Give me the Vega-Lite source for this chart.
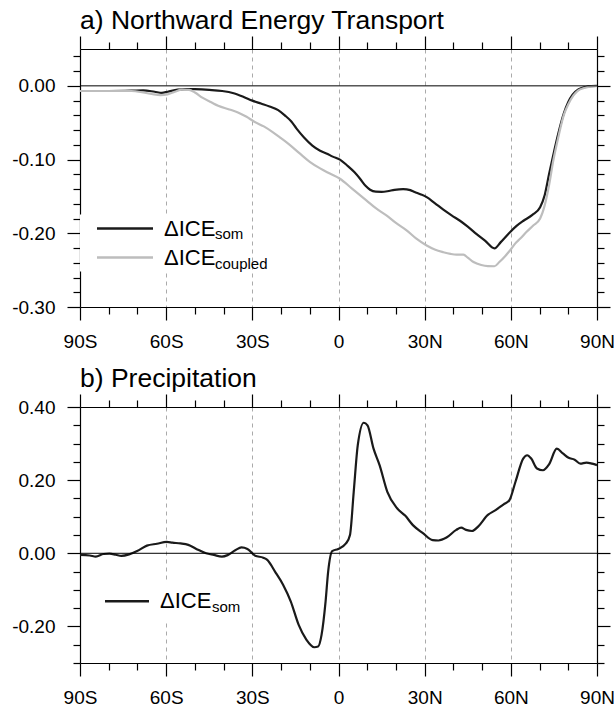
{
  "$schema": "https://vega.github.io/schema/vega-lite/v6.json",
  "padding": {"left": 11, "top": 7, "right": 0, "bottom": 0},
  "background": "white",
  "spacing": 14,
  "resolve": {"scale": {"color": "independent", "opacity": "independent"}, "legend": {"color": "independent", "opacity": "independent"}},
  "datasets": {
    "energy": [
      {"lat": -90, "value": -0.007, "series": "som"},
      {"lat": -80, "value": -0.007, "series": "som"},
      {"lat": -72, "value": -0.0065, "series": "som"},
      {"lat": -68, "value": -0.006, "series": "som"},
      {"lat": -64, "value": -0.008, "series": "som"},
      {"lat": -61.5, "value": -0.0095, "series": "som"},
      {"lat": -59.5, "value": -0.008, "series": "som"},
      {"lat": -56, "value": -0.005, "series": "som"},
      {"lat": -53, "value": -0.0043, "series": "som"},
      {"lat": -50, "value": -0.0045, "series": "som"},
      {"lat": -45, "value": -0.0055, "series": "som"},
      {"lat": -40.5, "value": -0.007, "series": "som"},
      {"lat": -36.5, "value": -0.01, "series": "som"},
      {"lat": -33, "value": -0.015, "series": "som"},
      {"lat": -30, "value": -0.02, "series": "som"},
      {"lat": -27, "value": -0.024, "series": "som"},
      {"lat": -24, "value": -0.028, "series": "som"},
      {"lat": -21, "value": -0.033, "series": "som"},
      {"lat": -18.7, "value": -0.04, "series": "som"},
      {"lat": -16.5, "value": -0.048, "series": "som"},
      {"lat": -14.6, "value": -0.058, "series": "som"},
      {"lat": -12, "value": -0.07, "series": "som"},
      {"lat": -9.1, "value": -0.081, "series": "som"},
      {"lat": -6.4, "value": -0.088, "series": "som"},
      {"lat": -4, "value": -0.092, "series": "som"},
      {"lat": -2, "value": -0.096, "series": "som"},
      {"lat": 0.5, "value": -0.1, "series": "som"},
      {"lat": 3, "value": -0.108, "series": "som"},
      {"lat": 5.5, "value": -0.117, "series": "som"},
      {"lat": 7.5, "value": -0.126, "series": "som"},
      {"lat": 9.5, "value": -0.136, "series": "som"},
      {"lat": 11, "value": -0.141, "series": "som"},
      {"lat": 13, "value": -0.1435, "series": "som"},
      {"lat": 15, "value": -0.1437, "series": "som"},
      {"lat": 17, "value": -0.143, "series": "som"},
      {"lat": 19.5, "value": -0.141, "series": "som"},
      {"lat": 22.5, "value": -0.14, "series": "som"},
      {"lat": 25, "value": -0.1415, "series": "som"},
      {"lat": 26.5, "value": -0.144, "series": "som"},
      {"lat": 28.5, "value": -0.147, "series": "som"},
      {"lat": 30.7, "value": -0.151, "series": "som"},
      {"lat": 33.5, "value": -0.159, "series": "som"},
      {"lat": 36.5, "value": -0.168, "series": "som"},
      {"lat": 39.5, "value": -0.176, "series": "som"},
      {"lat": 42.3, "value": -0.183, "series": "som"},
      {"lat": 45, "value": -0.191, "series": "som"},
      {"lat": 48.1, "value": -0.201, "series": "som"},
      {"lat": 51, "value": -0.21, "series": "som"},
      {"lat": 54.3, "value": -0.2205, "series": "som"},
      {"lat": 56.5, "value": -0.212, "series": "som"},
      {"lat": 59.7, "value": -0.1985, "series": "som"},
      {"lat": 62, "value": -0.19, "series": "som"},
      {"lat": 64.4, "value": -0.183, "series": "som"},
      {"lat": 67.5, "value": -0.175, "series": "som"},
      {"lat": 70.2, "value": -0.1646, "series": "som"},
      {"lat": 71.8, "value": -0.148, "series": "som"},
      {"lat": 73.3, "value": -0.12, "series": "som"},
      {"lat": 75, "value": -0.09, "series": "som"},
      {"lat": 76.5, "value": -0.065, "series": "som"},
      {"lat": 78.4, "value": -0.038, "series": "som"},
      {"lat": 80, "value": -0.022, "series": "som"},
      {"lat": 81.5, "value": -0.012, "series": "som"},
      {"lat": 83.5, "value": -0.005, "series": "som"},
      {"lat": 86, "value": -0.0015, "series": "som"},
      {"lat": 88, "value": -0.0003, "series": "som"},
      {"lat": 90, "value": 0, "series": "som"},
      {"lat": -90, "value": -0.007, "series": "coupled"},
      {"lat": -80, "value": -0.007, "series": "coupled"},
      {"lat": -72, "value": -0.007, "series": "coupled"},
      {"lat": -68, "value": -0.009, "series": "coupled"},
      {"lat": -65, "value": -0.011, "series": "coupled"},
      {"lat": -62, "value": -0.0125, "series": "coupled"},
      {"lat": -59.5, "value": -0.0115, "series": "coupled"},
      {"lat": -57, "value": -0.008, "series": "coupled"},
      {"lat": -54.5, "value": -0.005, "series": "coupled"},
      {"lat": -52, "value": -0.0055, "series": "coupled"},
      {"lat": -50, "value": -0.009, "series": "coupled"},
      {"lat": -47.4, "value": -0.016, "series": "coupled"},
      {"lat": -44, "value": -0.023, "series": "coupled"},
      {"lat": -41.9, "value": -0.027, "series": "coupled"},
      {"lat": -38, "value": -0.032, "series": "coupled"},
      {"lat": -35, "value": -0.036, "series": "coupled"},
      {"lat": -32, "value": -0.042, "series": "coupled"},
      {"lat": -29.6, "value": -0.048, "series": "coupled"},
      {"lat": -26, "value": -0.055, "series": "coupled"},
      {"lat": -22.8, "value": -0.063, "series": "coupled"},
      {"lat": -20, "value": -0.071, "series": "coupled"},
      {"lat": -17.3, "value": -0.079, "series": "coupled"},
      {"lat": -13.4, "value": -0.092, "series": "coupled"},
      {"lat": -10, "value": -0.103, "series": "coupled"},
      {"lat": -6.4, "value": -0.112, "series": "coupled"},
      {"lat": -3, "value": -0.119, "series": "coupled"},
      {"lat": 0.5, "value": -0.126, "series": "coupled"},
      {"lat": 4.6, "value": -0.139, "series": "coupled"},
      {"lat": 9.8, "value": -0.1556, "series": "coupled"},
      {"lat": 13, "value": -0.166, "series": "coupled"},
      {"lat": 16.8, "value": -0.176, "series": "coupled"},
      {"lat": 20, "value": -0.186, "series": "coupled"},
      {"lat": 23.7, "value": -0.196, "series": "coupled"},
      {"lat": 27, "value": -0.207, "series": "coupled"},
      {"lat": 30.7, "value": -0.2166, "series": "coupled"},
      {"lat": 33.5, "value": -0.222, "series": "coupled"},
      {"lat": 36.5, "value": -0.2257, "series": "coupled"},
      {"lat": 39, "value": -0.228, "series": "coupled"},
      {"lat": 41.1, "value": -0.229, "series": "coupled"},
      {"lat": 43.5, "value": -0.229, "series": "coupled"},
      {"lat": 45, "value": -0.233, "series": "coupled"},
      {"lat": 47, "value": -0.239, "series": "coupled"},
      {"lat": 49.7, "value": -0.243, "series": "coupled"},
      {"lat": 52, "value": -0.2445, "series": "coupled"},
      {"lat": 54.3, "value": -0.2447, "series": "coupled"},
      {"lat": 56, "value": -0.239, "series": "coupled"},
      {"lat": 58, "value": -0.231, "series": "coupled"},
      {"lat": 59.7, "value": -0.2234, "series": "coupled"},
      {"lat": 61.5, "value": -0.214, "series": "coupled"},
      {"lat": 63.2, "value": -0.2075, "series": "coupled"},
      {"lat": 65.5, "value": -0.198, "series": "coupled"},
      {"lat": 67.8, "value": -0.1895, "series": "coupled"},
      {"lat": 70.2, "value": -0.18, "series": "coupled"},
      {"lat": 71.8, "value": -0.162, "series": "coupled"},
      {"lat": 73.3, "value": -0.135, "series": "coupled"},
      {"lat": 74.8, "value": -0.101, "series": "coupled"},
      {"lat": 76.5, "value": -0.07, "series": "coupled"},
      {"lat": 78.4, "value": -0.04, "series": "coupled"},
      {"lat": 80, "value": -0.025, "series": "coupled"},
      {"lat": 81.8, "value": -0.013, "series": "coupled"},
      {"lat": 83.5, "value": -0.006, "series": "coupled"},
      {"lat": 85.5, "value": -0.003, "series": "coupled"},
      {"lat": 88, "value": -0.0008, "series": "coupled"},
      {"lat": 90, "value": 0, "series": "coupled"}
    ],
    "precip": [
      {"lat": -90, "value": -0.0045, "series": "som"},
      {"lat": -86.6, "value": -0.006, "series": "som"},
      {"lat": -84.5, "value": -0.009, "series": "som"},
      {"lat": -81.8, "value": -0.002, "series": "som"},
      {"lat": -79.7, "value": -0.001, "series": "som"},
      {"lat": -77.5, "value": -0.004, "series": "som"},
      {"lat": -75.6, "value": -0.007, "series": "som"},
      {"lat": -72.9, "value": -0.003, "series": "som"},
      {"lat": -70.1, "value": 0.006, "series": "som"},
      {"lat": -66.7, "value": 0.021, "series": "som"},
      {"lat": -63.2, "value": 0.026, "series": "som"},
      {"lat": -59.8, "value": 0.031, "series": "som"},
      {"lat": -57.8, "value": 0.029, "series": "som"},
      {"lat": -55, "value": 0.027, "series": "som"},
      {"lat": -52.3, "value": 0.023, "series": "som"},
      {"lat": -49.5, "value": 0.012, "series": "som"},
      {"lat": -46.1, "value": 0.0, "series": "som"},
      {"lat": -43.4, "value": -0.0045, "series": "som"},
      {"lat": -40.6, "value": -0.009, "series": "som"},
      {"lat": -38.6, "value": -0.005, "series": "som"},
      {"lat": -35.8, "value": 0.009, "series": "som"},
      {"lat": -33.8, "value": 0.016, "series": "som"},
      {"lat": -31.7, "value": 0.012, "series": "som"},
      {"lat": -29, "value": -0.007, "series": "som"},
      {"lat": -26.2, "value": -0.012, "series": "som"},
      {"lat": -24.8, "value": -0.018, "series": "som"},
      {"lat": -22.1, "value": -0.05, "series": "som"},
      {"lat": -19.3, "value": -0.086, "series": "som"},
      {"lat": -16.6, "value": -0.132, "series": "som"},
      {"lat": -13.9, "value": -0.195, "series": "som"},
      {"lat": -11.2, "value": -0.236, "series": "som"},
      {"lat": -8.4, "value": -0.257, "series": "som"},
      {"lat": -7.1, "value": -0.255, "series": "som"},
      {"lat": -5.9, "value": -0.223, "series": "som"},
      {"lat": -4.5, "value": -0.132, "series": "som"},
      {"lat": -3.6, "value": -0.05, "series": "som"},
      {"lat": -2.2, "value": 0.006, "series": "som"},
      {"lat": -0.1, "value": 0.012, "series": "som"},
      {"lat": 2.6, "value": 0.027, "series": "som"},
      {"lat": 4, "value": 0.05, "series": "som"},
      {"lat": 5.3, "value": 0.168, "series": "som"},
      {"lat": 6.7, "value": 0.295, "series": "som"},
      {"lat": 8.8, "value": 0.357, "series": "som"},
      {"lat": 10.1, "value": 0.35, "series": "som"},
      {"lat": 12.2, "value": 0.286, "series": "som"},
      {"lat": 14.3, "value": 0.241, "series": "som"},
      {"lat": 17, "value": 0.168, "series": "som"},
      {"lat": 20.4, "value": 0.123, "series": "som"},
      {"lat": 23.2, "value": 0.103, "series": "som"},
      {"lat": 25.9, "value": 0.077, "series": "som"},
      {"lat": 29.4, "value": 0.055, "series": "som"},
      {"lat": 32.8, "value": 0.036, "series": "som"},
      {"lat": 34.8, "value": 0.035, "series": "som"},
      {"lat": 37.6, "value": 0.043, "series": "som"},
      {"lat": 41, "value": 0.064, "series": "som"},
      {"lat": 42.7, "value": 0.07, "series": "som"},
      {"lat": 44.4, "value": 0.064, "series": "som"},
      {"lat": 46.5, "value": 0.061, "series": "som"},
      {"lat": 48.6, "value": 0.073, "series": "som"},
      {"lat": 52, "value": 0.105, "series": "som"},
      {"lat": 54.7, "value": 0.118, "series": "som"},
      {"lat": 57.5, "value": 0.134, "series": "som"},
      {"lat": 59.5, "value": 0.145, "series": "som"},
      {"lat": 61.6, "value": 0.195, "series": "som"},
      {"lat": 64.3, "value": 0.259, "series": "som"},
      {"lat": 65.7, "value": 0.268, "series": "som"},
      {"lat": 67.1, "value": 0.259, "series": "som"},
      {"lat": 69.1, "value": 0.232, "series": "som"},
      {"lat": 71.2, "value": 0.227, "series": "som"},
      {"lat": 73.3, "value": 0.243, "series": "som"},
      {"lat": 76, "value": 0.286, "series": "som"},
      {"lat": 78.1, "value": 0.273, "series": "som"},
      {"lat": 80.1, "value": 0.261, "series": "som"},
      {"lat": 82.2, "value": 0.256, "series": "som"},
      {"lat": 84.2, "value": 0.245, "series": "som"},
      {"lat": 86.3, "value": 0.248, "series": "som"},
      {"lat": 88.3, "value": 0.245, "series": "som"},
      {"lat": 90, "value": 0.241, "series": "som"}
    ]
  },
  "config": {
    "view": {"stroke": null},
    "font": "Liberation Sans",
    "axis": {
      "domainColor": "black", "domainWidth": 1.2, "tickColor": "black", "tickWidth": 1.2,
      "labelColor": "black", "labelFont": "Liberation Sans", "labelFontSize": 19,
      "labelOverlap": false, "labelBound": false, "labelFlush": false, "labelAngle": 0, "title": null
    },
    "title": {"font": "Liberation Sans", "fontSize": 26.5, "fontWeight": "normal", "anchor": "start", "frame": "group", "color": "black", "offset": 1},
    "legend": {"labelFont": "Liberation Sans", "labelColor": "black", "padding": 0, "labelLimit": 0}
  },
  "vconcat": [
    {
      "title": {"text": "a) Northward Energy Transport", "frame": "group"},
      "width": 517,
      "height": 258,
      "resolve": {"axis": {"x": "independent", "y": "independent"}},
      "layer": [
        {
          "data": {"name": "energy"},
          "transform": [{"calculate": "'s_' + datum.series", "as": "sub"}],
          "mark": {"type": "line", "strokeWidth": 2.2, "interpolate": "monotone"},
          "encoding": {
            "x": {"field": "lat", "type": "quantitative", "scale": {"domain": [-90, 90], "nice": false, "zero": false},
              "axis": {"orient": "bottom", "values": [-90,-80,-70,-60,-50,-40,-30,-20,-10,0,10,20,30,40,50,60,70,80,90],
                "labelExpr": "datum.value % 30 !== 0 ? '' : (datum.value === 0 ? '0' : (datum.value < 0 ? (-datum.value) + 'S' : datum.value + 'N'))",
                "tickSize": {"condition": {"test": "datum.value % 30 === 0", "value": 13}, "value": 7},
                "labelPadding": 12,
                "grid": true, "gridDash": [4, 4], "gridColor": "#aaaaaa", "gridWidth": 1,
                "gridOpacity": {"condition": {"test": "datum.value % 30 === 0 && abs(datum.value) < 90", "value": 1}, "value": 0}}},
            "y": {"field": "value", "type": "quantitative", "scale": {"domain": [-0.3, 0.05], "nice": false, "zero": false},
              "axis": {"orient": "left", "values": [-0.3,-0.28,-0.26,-0.24,-0.22,-0.2,-0.18,-0.16,-0.14,-0.12,-0.1,-0.08,-0.06,-0.04,-0.02,0,0.02,0.04],
                "labelExpr": "abs(datum.value*10 - round(datum.value*10)) < 1e-6 ? (datum.value < -1e-9 ? '-' + format(-datum.value, '.2f') : format(abs(datum.value), '.2f')) : ''",
                "tickSize": {"condition": {"test": "abs(datum.value*10 - round(datum.value*10)) < 1e-6", "value": 13}, "value": 7},
                "labelPadding": 12, "grid": false}},
            "color": {"field": "series", "type": "nominal", "scale": {"domain": ["som", "coupled"], "range": ["#1a1a1a", "#bdbdbd"]},
              "legend": {"orient": "none", "legendX": 0, "legendY": 165.5, "padding": 3, "fillColor": "white", "title": null, "symbolType": "M-8,0H8", "symbolSize": 49,
                "symbolStrokeWidth": 2.5, "symbolOffset": 31, "labelExpr": "'ΔICE'", "labelFontSize": 22, "labelOffset": 28, "rowPadding": 7}},
            "opacity": {"field": "sub", "type": "ordinal", "scale": {"domain": ["s_som", "s_coupled"], "range": [1, 1]},
              "legend": {"orient": "none", "legendX": 0, "legendY": 177.5, "title": null, "symbolSize": 0, "symbolStrokeWidth": 0,
                "symbolOpacity": 0, "labelExpr": "substring(datum.label, 2)", "labelFontSize": 15, "labelOffset": 120, "rowPadding": 14}}
          }
        },
        {
          "data": {"values": [{}]},
          "mark": {"type": "rule", "color": "black", "strokeWidth": 1},
          "encoding": {
            "x": {"datum": -90, "type": "quantitative",
              "axis": {"orient": "top", "values": [-90,-80,-70,-60,-50,-40,-30,-20,-10,0,10,20,30,40,50,60,70,80,90], "labels": false, "grid": false,
                "tickSize": {"condition": {"test": "datum.value % 30 === 0", "value": 13}, "value": 7}}},
            "x2": {"datum": 90},
            "y": {"datum": 0, "type": "quantitative",
              "axis": {"orient": "right", "values": [-0.3,-0.28,-0.26,-0.24,-0.22,-0.2,-0.18,-0.16,-0.14,-0.12,-0.1,-0.08,-0.06,-0.04,-0.02,0,0.02,0.04], "labels": false, "grid": false,
                "tickSize": {"condition": {"test": "abs(datum.value*10 - round(datum.value*10)) < 1e-6", "value": 13}, "value": 7}}}
          }
        }
      ]
    },
    {
      "title": {"text": "b) Precipitation", "frame": "group"},
      "width": 517,
      "height": 256,
      "resolve": {"axis": {"x": "independent", "y": "independent"}},
      "layer": [
        {
          "data": {"name": "precip"},
          "transform": [{"calculate": "'s_' + datum.series", "as": "sub"}],
          "mark": {"type": "line", "strokeWidth": 2.2, "interpolate": "monotone"},
          "encoding": {
            "x": {"field": "lat", "type": "quantitative", "scale": {"domain": [-90, 90], "nice": false, "zero": false},
              "axis": {"orient": "bottom", "values": [-90,-80,-70,-60,-50,-40,-30,-20,-10,0,10,20,30,40,50,60,70,80,90],
                "labelExpr": "datum.value % 30 !== 0 ? '' : (datum.value === 0 ? '0' : (datum.value < 0 ? (-datum.value) + 'S' : datum.value + 'N'))",
                "tickSize": {"condition": {"test": "datum.value % 30 === 0", "value": 13}, "value": 7},
                "labelPadding": 12,
                "grid": true, "gridDash": [4, 4], "gridColor": "#aaaaaa", "gridWidth": 1,
                "gridOpacity": {"condition": {"test": "datum.value % 30 === 0 && abs(datum.value) < 90", "value": 1}, "value": 0}}},
            "y": {"field": "value", "type": "quantitative", "scale": {"domain": [-0.3, 0.4], "nice": false, "zero": false},
              "axis": {"orient": "left", "values": [-0.3,-0.25,-0.2,-0.15,-0.1,-0.05,0,0.05,0.1,0.15,0.2,0.25,0.3,0.35,0.4],
                "labelExpr": "abs(datum.value*5 - round(datum.value*5)) < 1e-6 ? (datum.value < -1e-9 ? '-' + format(-datum.value, '.2f') : format(abs(datum.value), '.2f')) : ''",
                "tickSize": {"condition": {"test": "abs(datum.value*5 - round(datum.value*5)) < 1e-6", "value": 13}, "value": 7},
                "labelPadding": 12, "grid": false}},
            "color": {"field": "series", "type": "nominal", "scale": {"domain": ["som"], "range": ["#1a1a1a"]},
              "legend": {"orient": "none", "legendX": 2, "legendY": 173.2, "padding": 10, "fillColor": "white", "title": null, "symbolType": "M-8,0H8", "symbolSize": 30.25,
                "symbolStrokeWidth": 2.5, "symbolOffset": 24, "labelExpr": "'ΔICE'", "labelFontSize": 22, "labelOffset": 22, "rowPadding": 7}},
            "opacity": {"field": "sub", "type": "ordinal", "scale": {"domain": ["s_som"], "range": [1]},
              "legend": {"orient": "none", "legendX": 0, "legendY": 192.5, "title": null, "symbolSize": 0, "symbolStrokeWidth": 0,
                "symbolOpacity": 0, "labelExpr": "substring(datum.label, 2)", "labelFontSize": 15, "labelOffset": 117, "rowPadding": 14}}
          }
        },
        {
          "data": {"values": [{}]},
          "mark": {"type": "rule", "color": "black", "strokeWidth": 1},
          "encoding": {
            "x": {"datum": -90, "type": "quantitative",
              "axis": {"orient": "top", "values": [-90,-80,-70,-60,-50,-40,-30,-20,-10,0,10,20,30,40,50,60,70,80,90], "labels": false, "grid": false,
                "tickSize": {"condition": {"test": "datum.value % 30 === 0", "value": 13}, "value": 7}}},
            "x2": {"datum": 90},
            "y": {"datum": 0, "type": "quantitative",
              "axis": {"orient": "right", "values": [-0.3,-0.25,-0.2,-0.15,-0.1,-0.05,0,0.05,0.1,0.15,0.2,0.25,0.3,0.35,0.4], "labels": false, "grid": false,
                "tickSize": {"condition": {"test": "abs(datum.value*5 - round(datum.value*5)) < 1e-6", "value": 13}, "value": 7}}}
          }
        }
      ]
    }
  ]
}
